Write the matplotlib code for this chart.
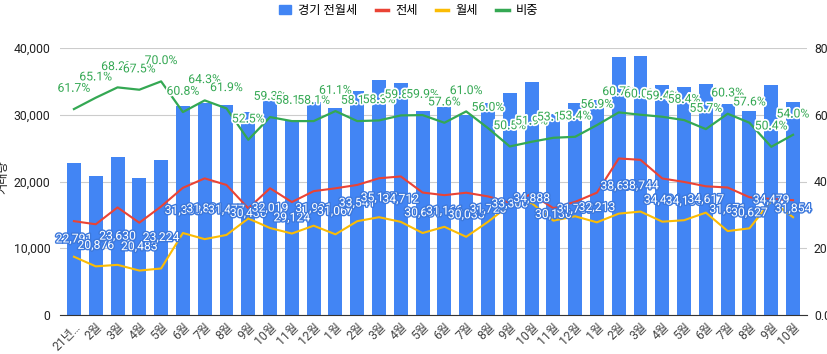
import matplotlib
matplotlib.use('Agg')
import matplotlib.pyplot as plt
import matplotlib.patheffects as pe
from matplotlib.ticker import FuncFormatter
from matplotlib.lines import Line2D
from matplotlib.patches import Patch

plt.rcParams['font.family'] = ['Roboto', 'Noto Sans CJK KR', 'DejaVu Sans']

months = ['21년…', '2월', '3월', '4월', '5월', '6월', '7월', '8월', '9월', '10월', '11월', '12월',
          '1월', '2월', '3월', '4월', '5월', '6월', '7월', '8월', '9월', '10월', '11월', '12월',
          '1월', '2월', '3월', '4월', '5월', '6월', '7월', '8월', '9월', '10월']

total = [22791, 20876, 23630, 20483, 23224, 31338, 31831, 31477, 30436, 32019, 29124, 31931,
         31067, 33541, 35137, 34712, 30631, 31166, 30035, 31725, 33306, 34888, 30136, 31737,
         32213, 38636, 38744, 34434, 34136, 34617, 31671, 30627, 34479, 31854]

jeonse = [14062, 13590, 16116, 13826, 16257, 19054, 20467, 19484, 15979, 18987, 16921, 18552,
          18982, 19487, 20485, 20758, 18348, 17952, 18321, 17766, 16820, 18107, 16002, 16948,
          18329, 23452, 23246, 20454, 19935, 19282, 19098, 17641, 17377, 17201]

wolse = [8729, 7286, 7514, 6657, 6967, 12284, 11364, 11993, 14457, 13032, 12203, 13379,
         12085, 14054, 14652, 13954, 12283, 13214, 11714, 13959, 16486, 16781, 14134, 14789,
         13884, 15184, 15498, 13980, 14201, 15335, 12573, 12986, 17102, 14653]

share = [61.7, 65.1, 68.2, 67.5, 70.0, 60.8, 64.3, 61.9, 52.5, 59.3, 58.1, 58.1,
         61.1, 58.1, 58.3, 59.8, 59.9, 57.6, 61.0, 56.0, 50.5, 51.9, 53.1, 53.4,
         56.9, 60.7, 60.0, 59.4, 58.4, 55.7, 60.3, 57.6, 50.4, 54.0]

blue = '#4285F4'
red = '#EA4335'
yellow = '#FBBC04'
green = '#34A853'

fig = plt.figure(figsize=(8.27, 3.54), dpi=100)
ax = fig.add_axes([60 / 827, 1 - 315 / 354, 747 / 827, 267 / 354])
ax2 = ax.twinx()

x = list(range(len(months)))
ax.bar(x, total, width=0.64, color=blue, zorder=2)
ax.plot(x, jeonse, color=red, lw=1.5, zorder=3)
ax.plot(x, wolse, color=yellow, lw=1.5, zorder=3)
ax2.plot(x, share, color=green, lw=1.6, zorder=3)

for i, v in enumerate(total):
    ax.text(i, v / 2, f'{v:,}', ha='center', va='center', fontsize=8.8, color='white', zorder=5,
            path_effects=[pe.withStroke(linewidth=2, foreground='#3c78dc')])

for i, p in enumerate(share):
    ax2.annotate(f'{p:.1f}%', (i, p), xytext=(0, 15), textcoords='offset points',
                 ha='center', va='center', fontsize=8.8, color=green, zorder=6,
                 path_effects=[pe.withStroke(linewidth=2.5, foreground='white')])

ax.set_xlim(-0.64, len(months) - 1 + 0.64)
ax.set_ylim(0, 40000)
ax2.set_ylim(0, 80)
ax.set_yticks([0, 10000, 20000, 30000, 40000])
ax2.set_yticks([0, 20, 40, 60, 80])
ax.yaxis.set_major_formatter(FuncFormatter(lambda v, p: f'{int(v):,}'))
ax2.yaxis.set_major_formatter(FuncFormatter(lambda v, p: f'{v:.1f}%'))

ax.grid(axis='y', color='#cccccc', lw=0.8, zorder=0)
ax.set_axisbelow(True)
for s in ['top', 'right', 'left']:
    ax.spines[s].set_visible(False)
    ax2.spines[s].set_visible(False)
ax2.spines['bottom'].set_visible(False)
ax.spines['bottom'].set_color('#333333')
ax.spines['bottom'].set_zorder(4)

ax.tick_params(axis='y', length=0, pad=7, labelsize=8.8, labelcolor='#222222')
ax2.tick_params(axis='y', length=0, pad=5, labelsize=8.8, labelcolor='#222222')
ax.set_xticks(x)
ax.set_xticklabels(months, rotation=45, ha='right', rotation_mode='anchor',
                   fontsize=8.8, color='#444444')
ax.tick_params(axis='x', length=0, pad=4)

fig.text(0.004, 0.5, '거래량', rotation=90, va='center', ha='center', fontsize=8.8, color='#222222')

handles = [Patch(color=blue), Line2D([], [], color=red, lw=2.5),
           Line2D([], [], color=yellow, lw=2.5), Line2D([], [], color=green, lw=2.5)]
fig.legend(handles, ['경기 전월세', '전세', '월세', '비중'], loc='upper center',
           bbox_to_anchor=(0.494, 1.02), ncol=4, frameon=False, fontsize=8.8,
           handlelength=1.0, handletextpad=0.6, columnspacing=1.5)

fig.savefig('out.png', dpi=100)
